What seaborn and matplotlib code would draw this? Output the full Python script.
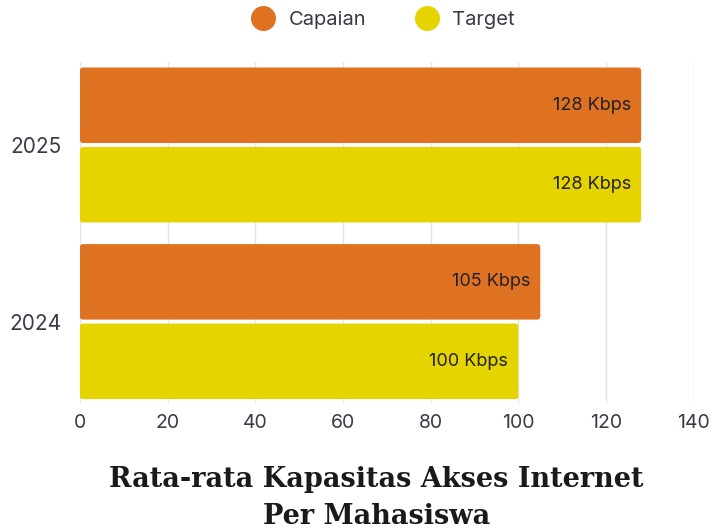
import pandas as pd
import matplotlib.pyplot as plt
from matplotlib.lines import Line2D
from matplotlib.patches import FancyBboxPatch
import seaborn as sns

years = ['2025', '2024']
capaian = [128, 105]
target = [128, 100]
series = ['Capaian', 'Target']
colors = ['#DF7220', '#E6D400']
xticks = [0, 20, 40, 60, 80, 100, 120, 140]

df = pd.DataFrame({
    'year': years * 2,
    'value': capaian + target,
    'series': ['Capaian'] * len(years) + ['Target'] * len(years),
})

sns.set_theme(style='white')
plt.rcParams['font.family'] = ['Inter', 'DejaVu Sans']

fig = plt.figure(figsize=(7.13, 5.3), dpi=100)
ax = fig.add_axes([0.112, 0.240, 0.861, 0.643])

sns.barplot(data=df, x='value', y='year', hue='series', order=years,
            hue_order=series, palette=colors, orient='h', width=0.9,
            gap=0.05, saturation=1, legend=False, ax=ax, zorder=2)

ax.set_xlim(0, 140)
ax.set_ylim(1.46, -0.47)

# swap plain rectangles for slightly rounded ones, then label bar ends
for cont in ax.containers:
    for p in cont:
        x, y = p.get_x(), p.get_y()
        w, h = p.get_width(), p.get_height()
        p.set_visible(False)
        ax.add_patch(FancyBboxPatch((x, y), w, h,
                                    boxstyle='round,pad=0,rounding_size=0.7',
                                    mutation_aspect=0.025, facecolor=p.get_facecolor(),
                                    edgecolor='none', zorder=2))
        ax.text(x + w - 2.3, y + h / 2, f'{int(w)} Kbps',
                ha='right', va='center', fontsize=13, color='#22222f', zorder=3)

ax.set_xticks(xticks)
ax.set_xlabel('')
ax.set_ylabel('')
ax.grid(axis='x', color='#e4e4e4', linewidth=1, zorder=0)
ax.grid(axis='y', visible=False)
for s in ax.spines.values():
    s.set_visible(False)
ax.tick_params(axis='both', length=0, labelsize=14, labelcolor='#3a3a48')
ax.tick_params(axis='x', pad=8)
ax.tick_params(axis='y', pad=13, labelsize=15)

handles = [Line2D([0], [0], marker='o', linestyle='', markersize=17,
                  markerfacecolor=c, markeredgecolor=c) for c in colors]
ax.legend(handles, series, loc='center', bbox_to_anchor=(0.487, 1.123), ncol=2,
          frameon=False, fontsize=14.5, handletextpad=0.25, columnspacing=2.0,
          labelcolor='#3a3a48')

fig.text(0.528, 0.060, 'Rata-rata Kapasitas Akses Internet\nPer Mahasiswa',
         ha='center', va='center', fontsize=19.5, fontweight='bold',
         family='DejaVu Serif', color='#1a1a1a', linespacing=1.45)

fig.savefig('out.png', dpi=100, facecolor='white')
